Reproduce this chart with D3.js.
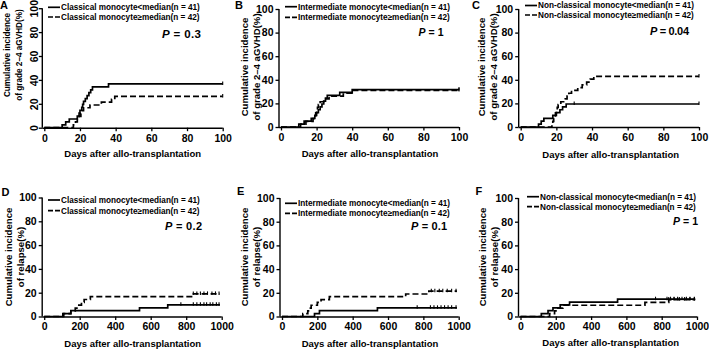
<!DOCTYPE html>
<html><head><meta charset="utf-8">
<script src="https://cdn.jsdelivr.net/npm/d3@7"></script>
<style>
body{margin:0;background:#fff}
svg{display:block;font-family:"Liberation Sans",Arial,sans-serif;font-weight:bold}
</style></head><body>
<svg id="chart" width="709" height="349"></svg>
<script>
// ---------- data ----------
const panelLetters = ["A","B","C","D","E","F"];
const yTicks = [0,20,40,60,80,100];
const gvhdTicks = [0,20,40,60,80,100];
const relapseTicks = [0,200,400,600,800,1000];
const xTitle = "Days after allo-transplantation";
const yTitleLine1 = "Cumulative incidence";
const yTitleGvhd = "of grade 2–4 aGVHD(%)";
const yTitleRelapse = "of relapse(%)";
const legendLow = ["Classical monocyte<median(n = 41)","Intermediate monocyte<median(n = 41)","Non-classical monocyte<median(n = 41)"];
const legendHigh = ["Classical monocyte≥median(n = 42)","Intermediate monocyte≥median(n = 42)","Non-classical monocyte≥median(n = 42)"];
const pValues = ["0.3","1","0.04","0.2","0.1","1"];

// step curves: [day, cumulative incidence %]
const aLow  = [[0,0],[10,2.4],[12,4.9],[14,7.3],[18.5,9.8],[19.5,12.2],[20,14.6],[21,17.1],[21.5,19.5],[22,22],[23,24.4],[24,26.8],[25,29.3],[26,31.7],[27,34.1],[36,36.6],[100,36.6]];
const aHigh = [[0,0],[16.3,2.4],[17.5,4.8],[18.5,7.1],[19.5,9.5],[20.5,11.9],[21,14.3],[22,16.7],[25.6,19],[32,21.4],[37.7,23.8],[39.5,26.2],[100,26.2]];
const bLow  = [[0,0],[10,2.4],[13,4.9],[17,7.3],[19,9.8],[20,12.2],[21,14.6],[22,17.1],[23,19.5],[24,22],[25,24.4],[26,26.8],[33,29.3],[40,31.7],[100,31.7]];
const bHigh = [[0,0],[11,2.4],[14,4.8],[18,7.1],[19,9.5],[19.5,11.9],[20,14.3],[20.5,16.7],[21,19],[22,21.4],[24,23.8],[27,26.2],[35,28.6],[40,31],[100,31]];
const cLow  = [[0,0],[10,2.4],[11.5,4.9],[13,7.3],[18,9.8],[20,12.2],[22,14.6],[23.5,17.1],[25.5,19.5],[100,19.5]];
const cHigh = [[0,0],[17.5,2.4],[18,4.8],[18.5,7.1],[19,9.5],[19.5,11.9],[20,14.3],[20.5,16.7],[21,19],[22.5,21.4],[25,23.8],[26,26.2],[27,28.6],[28.5,31],[32,33.3],[34.5,35.7],[37,38.1],[39,40.5],[41,42.9],[100,42.9]];
const dLow  = [[0,0],[110,2.4],[150,4.9],[537,7.3],[696,9.8],[990,9.8]];
const dHigh = [[0,0],[105,2.4],[150,4.8],[175,7.1],[195,9.5],[210,11.9],[225,14.3],[260,16.7],[830,19],[990,19]];
const eLow  = [[0,0],[184,2.4],[212,4.9],[540,7.3],[990,7.3]];
const eHigh = [[0,0],[118,2.4],[146,4.8],[155,7.1],[165,9.5],[200,11.9],[221,14.3],[268,16.7],[700,19],[831,21.4],[990,21.4]];
const fLow  = [[0,0],[118,2.4],[156,4.9],[184,7.3],[225,9.8],[278,12.2],[550,14.6],[990,14.6]];
const fHigh = [[0,0],[165,2.4],[193,4.8],[212,7.1],[240,9.5],[705,11.9],[840,14.3],[990,14.3]];

// censored observations (days)
const aLowCensor = [100], aHighCensor = [100];
const bLowCensor = [100], bHighCensor = [100];
const cLowCensor = [30,100], cHighCensor = [100];
const dLowCensor = [770,840,860,880,900,915,935,950,970,985];
const dHighCensor = [840,860,880,900,920,945,965,985];
const eLowCensor = [765,840,860,880,900,920,940,960,985];
const eHighCensor = [845,865,890,910,935,960,985];
const fLowCensor = [765,830,850,870,890,915,940,960,985];
const fHighCensor = [840,870,900,930,960,985];

// ---------- layout (positions only) ----------
const layout = [
  {x0:44.3,x1:222.7,yb:127.7,yt:8.2, letter:[0,9], leg:[48,7.3,17], p:[181.5,38,11.5,39], xt:[132.7,157], yt1:[7,19,55,8.2], rotTicks:true},
  {x0:281,x1:459,yb:127,yt:9, letter:[235,9], leg:[285,6.7,17.3], p:[431,36,10.5,25], xt:[370,156.5], yt1:[245,256.7,67,9.6]},
  {x0:520.7,x1:699,yb:127,yt:9, letter:[472,9], leg:[525,5.5,15], p:[669.5,34.7,11,39], xt:[610.7,157.5], yt1:[481.7,494,67,9.6]},
  {x0:44.2,x1:221.7,yb:316.5,yt:197.5, letter:[1.5,196], leg:[48,200,210.7], p:[183.5,229.7,11,37], xt:[132.7,347], yt1:[8.3,20.7,257,9.6]},
  {x0:282,x1:458.7,yb:316.5,yt:198, letter:[237,195], leg:[285,203.3,213.3], p:[429,229.7,11,36], xt:[370,347], yt1:[245,257,257,9.6]},
  {x0:520.5,x1:697,yb:316.5,yt:198, letter:[475.5,194.5], leg:[527,196.7,206.7], p:[685.5,224.7,10.5,25], xt:[610.7,346], yt1:[483,495,257,9.6]}
];

const curves = [[aLow,aHigh],[bLow,bHigh],[cLow,cHigh],[dLow,dHigh],[eLow,eHigh],[fLow,fHigh]];
const censors = [[aLowCensor,aHighCensor],[bLowCensor,bHighCensor],[cLowCensor,cHighCensor],[dLowCensor,dHighCensor],[eLowCensor,eHighCensor],[fLowCensor,fHighCensor]];

const svg = d3.select("#chart");
const DASH = "6,3";

layout.forEach((L, i) => {
  const isGvhd = i < 3;
  const xTicks = isGvhd ? gvhdTicks : relapseTicks;
  const x = d3.scaleLinear().domain([0, isGvhd ? 100 : 1000]).range([L.x0, L.x1]);
  const y = d3.scaleLinear().domain([0,100]).range([L.yb, L.yt]);
  const g = svg.append("g");

  // x axis
  const xa = g.append("g").attr("transform", `translate(0,${L.yb})`)
    .call(d3.axisBottom(x).tickValues(xTicks).tickFormat(d3.format("d")).tickSize(3.5).tickPadding(3));
  xa.select(".domain").attr("d", `M${L.x0-2},0.5H${L.x1}`);
  // y axis
  const ya = g.append("g").attr("transform", `translate(${L.x0-2},0)`)
    .call(d3.axisLeft(y).tickValues(yTicks).tickFormat(d3.format("d")).tickSize(3.5).tickPadding(2));
  ya.select(".domain").attr("d", `M0,${L.yb}V${L.yt}`);
  [xa, ya].forEach(a => {
    a.selectAll(".domain").attr("stroke","#000").attr("stroke-width",1.4).attr("fill","none");
    a.selectAll(".tick line").attr("stroke","#000").attr("stroke-width",1.3);
    a.selectAll("text").attr("font-family",'"Liberation Sans",Arial,sans-serif')
      .attr("font-weight","bold").attr("font-size",10.5).attr("fill","#000");
  });
  if (L.rotTicks) {
    ya.selectAll(".tick text").attr("x",null).attr("dy",null)
      .attr("text-anchor","middle")
      .attr("transform","translate(-4.5,0) rotate(-90)");
  }

  // curves
  const line = d3.line().x(d => x(d[0])).y(d => y(d[1])).curve(d3.curveStepAfter);
  curves[i].forEach((data, k) => {
    g.append("path").attr("d", line(data)).attr("fill","none")
      .attr("stroke","#000").attr("stroke-width",1.7)
      .attr("stroke-dasharray", k === 1 ? DASH : null);
    const valAt = day => { let v = 0; data.forEach(p => { if (p[0] <= day) v = p[1]; }); return v; };
    censors[i][k].forEach(day => {
      g.append("line").attr("x1", x(day)).attr("x2", x(day))
        .attr("y1", y(valAt(day)) - 2.5).attr("y2", y(valAt(day)) + 1)
        .attr("stroke","#000").attr("stroke-width",1.1);
    });
  });

  // panel letter
  svg.append("text").attr("x", L.letter[0]).attr("y", L.letter[1])
    .attr("font-size", 11).text(panelLetters[i]);

  // legend
  const ti = i % 3;
  [legendLow[ti], legendHigh[ti]].forEach((t, k) => {
    const ly = L.leg[1 + k];
    g.append("line").attr("x1", L.leg[0]).attr("x2", L.leg[0] + 12)
      .attr("y1", ly).attr("y2", ly).attr("stroke","#000").attr("stroke-width",1.7)
      .attr("stroke-dasharray", k === 1 ? "5,2" : null);
    g.append("text").attr("x", L.leg[0] + 13).attr("y", ly).attr("dy","0.35em")
      .attr("font-size", 8.2).text(t);
  });

  // P value
  const pt = g.append("text").attr("x", L.p[0]).attr("y", L.p[1])
    .attr("text-anchor","middle").attr("font-size", L.p[2])
    .attr("textLength", L.p[3]).attr("lengthAdjust","spacing");
  pt.append("tspan").attr("font-style","italic").text("P");
  pt.append("tspan").text(" = " + pValues[i]);

  // x title
  g.append("text").attr("x", L.xt[0]).attr("y", L.xt[1]).attr("text-anchor","middle")
    .attr("font-size", 9.5).text(xTitle);

  // y title (two lines)
  const yt = L.yt1;
  [yTitleLine1, isGvhd ? yTitleGvhd : yTitleRelapse].forEach((t, k) => {
    g.append("text").attr("transform", `translate(${yt[k]},${yt[2]}) rotate(-90)`)
      .attr("text-anchor","middle").attr("dy","0.35em").attr("font-size", yt[3]).text(t);
  });
});
</script>
</body></html>
